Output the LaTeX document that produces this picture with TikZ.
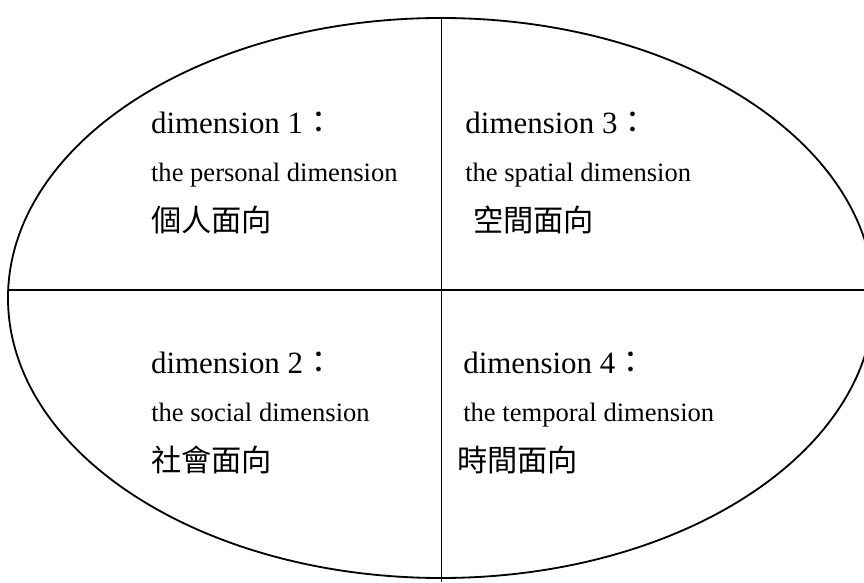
\documentclass[tikz,border=0pt]{standalone}
\usepackage{fontspec}
\setmainfont{Liberation Serif}
\newfontfamily\zhfont{Noto Sans CJK TC}
\usepackage{tikz}
\usetikzlibrary{positioning}

\begin{document}
\begin{tikzpicture}[
  dimtitle/.style={anchor=base west, inner sep=0pt, font=\fontsize{22}{26}\selectfont},
  dimname/.style={anchor=base west, inner sep=0pt, font=\fontsize{18.9}{22}\selectfont},
  dimzh/.style={anchor=west, inner sep=0pt, font=\zhfont\fontsize{21.5}{24}\selectfont}
]
  \useasboundingbox (0,0) rectangle (21.6,14.55);
  \clip (0,0) rectangle (21.6,14.55);

  % Ellipse and axes
  \draw[line width=1.3pt] (11.025,7.1) ellipse [x radius=10.825, y radius=7.0];
  \draw[line width=1pt] (0.2,7.3) -- (21.6,7.3);
  \draw[line width=1pt] (11.04,14.1) -- (11.04,0);

  % dimension 1
  \node[dimtitle] (dimOne) at (3.77,11.22) {dimension 1{\zhfont ：}};
  \node[dimname] (dimOneEn) at (3.77,10.0) {the personal dimension};
  \node[dimzh] (dimOneZh) at (3.77,9.06) {個人面向};

  % dimension 3
  \node[dimtitle] (dimThree) at (11.63,11.22) {dimension 3{\zhfont ：}};
  \node[dimname] (dimThreeEn) at (11.625,10.0) {the spatial dimension};
  \node[dimzh] (dimThreeZh) at (11.825,9.06) {空間面向};

  % dimension 2
  \node[dimtitle] (dimTwo) at (3.77,5.22) {dimension 2{\zhfont ：}};
  \node[dimname] (dimTwoEn) at (3.775,4.0) {the social dimension};
  \node[dimzh] (dimTwoZh) at (3.775,3.06) {社會面向};

  % dimension 4
  \node[dimtitle] (dimFour) at (11.575,5.22) {dimension 4{\zhfont ：}};
  \node[dimname] (dimFourEn) at (11.575,4.0) {the temporal dimension};
  \node[dimzh] (dimFourZh) at (11.425,3.06) {時間面向};
\end{tikzpicture}
\end{document}
